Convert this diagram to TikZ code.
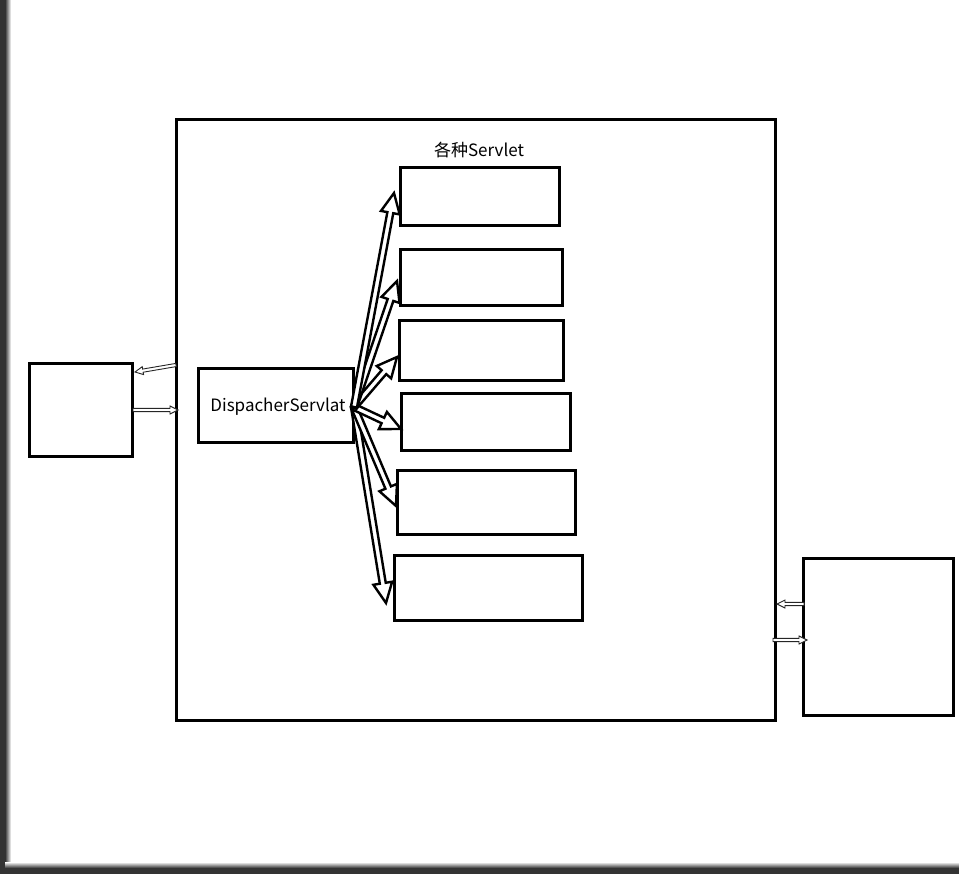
\documentclass[tikz,border=0pt]{standalone}
\usepackage{fontspec}
\setmainfont{Noto Sans CJK SC}
\usetikzlibrary{calc}
\newcommand{\blockarrow}[6]{%
  \draw[#1] let \p1=(#2), \p2=(#3), \n1={atan2(\y2-\y1,\x2-\x1)}, \n2={veclen(\x2-\x1,\y2-\y1)} in
    [shift={(\p1)}, rotate=\n1, x=1pt, y=1pt]
    (0,-#4) -- ({\n2-#6},-#4) -- ({\n2-#6},-#5) -- (\n2,0) -- ({\n2-#6},#5) -- ({\n2-#6},#4) -- (0,#4) -- cycle;}
\begin{document}
\begin{tikzpicture}[x=1pt,y=-1pt,
  box/.style={draw=black,line width=2.6pt,inner sep=0pt,anchor=north west},
  lbl/.style={font=\fontsize{17}{20}\selectfont,inner sep=0pt},
  fanarrow/.style={draw=black,fill=white,line width=2.4pt,line join=miter,miter limit=4},
  sidearrow/.style={draw=black!85,fill=white,line width=0.9pt,line join=miter,miter limit=4}]
\useasboundingbox (0,0) rectangle (959,874);
% shadow strips
\fill[black!80] (0,0) rectangle (5,874);
\shade[left color=black!80,right color=white] (5,0) rectangle (11,862);
\fill[black!80] (0,868) rectangle (959,874);
\shade[bottom color=black!80,top color=white] (5,862) rectangle (959,868);
% frame and boxes
\node[box,minimum width=599pt,minimum height=601pt] (frame) at (175,118) {};
\node[lbl] (title) at (479,150) {各种Servlet};
\node[box,minimum width=155pt,minimum height=74pt] (disp) at (197,367) {};
\node[lbl] (disptext) at (278,407) {DispacherServlat};
\node[box,minimum width=159pt,minimum height=58pt] (s1) at (399,166) {};
\node[box,minimum width=162pt,minimum height=56pt] (s2) at (399,248) {};
\node[box,minimum width=164pt,minimum height=60pt] (s3) at (398,319) {};
\node[box,minimum width=169pt,minimum height=57pt] (s4) at (400,392) {};
\node[box,minimum width=178pt,minimum height=64pt] (s5) at (396,469) {};
\node[box,minimum width=188pt,minimum height=65pt] (s6) at (393,554) {};
\node[box,minimum width=103pt,minimum height=93pt] (lbox) at (28,362) {};
\node[box,minimum width=150pt,minimum height=157pt] (rbox) at (802,557) {};
% fan arrows
\coordinate (o) at (354,407);
\coordinate (t1) at (394,193);
\coordinate (t2) at (397,281);
\coordinate (t3) at (397,357);
\coordinate (t4) at (401,429);
\coordinate (t5) at (396,506);
\coordinate (t6) at (386,603);
\foreach \t in {t6,t5,t4,t3,t2,t1} {\blockarrow{fanarrow}{o}{\t}{3}{9.5}{20}}
% side arrows
\coordinate (a1) at (176,365);
\coordinate (a2) at (135,372);
\coordinate (b1) at (133,410);
\coordinate (b2) at (178,410);
\coordinate (c1) at (804,604);
\coordinate (c2) at (777,604);
\coordinate (d1) at (773,640);
\coordinate (d2) at (807,640);
\foreach \s/\e in {a1/a2,b1/b2,c1/c2,d1/d2} {\blockarrow{sidearrow}{\s}{\e}{1.6}{4}{8}}
\end{tikzpicture}
\end{document}
